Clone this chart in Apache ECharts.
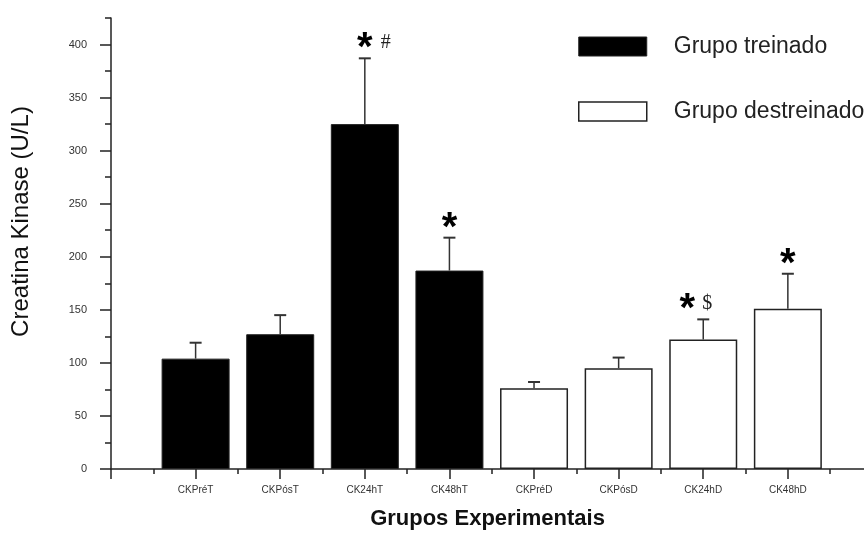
<!DOCTYPE html>
<html>
<head>
<meta charset="utf-8">
<script src="https://cdn.jsdelivr.net/npm/echarts@6/dist/echarts.min.js"></script>
<style>html,body{margin:0;padding:0;background:#fff;}#c{width:864px;height:535px;}</style>
</head>
<body>
<div id="c"></div>
<script>
// ---- data ----
const categories = ['CKPréT', 'CKPósT', 'CK24hT', 'CK48hT', 'CKPréD', 'CKPósD', 'CK24hD', 'CK48hD'];
const positions = [1, 2, 3, 4, 5, 6, 7, 8];
const trainedValues = [104, 127, 325, 187];
const trainedErrors = [15, 18, 62, 31];
const detrainedValues = [76, 95, 122, 151];
const detrainedErrors = [6, 10, 19, 33];
const annotations = ['', '', '*#', '*', '', '', '*$', '*'];
const yTicks = [0, 50, 100, 150, 200, 250, 300, 350, 400];
const yMinorTicks = [25, 75, 125, 175, 225, 275, 325, 375, 425];
const xMinorTicks = [0.5, 1.5, 2.5, 3.5, 4.5, 5.5, 6.5, 7.5, 8.5];
const seriesNames = ['Grupo treinado', 'Grupo destreinado'];

// ---- build ----
const allValues = trainedValues.concat(detrainedValues);
const allErrors = trainedErrors.concat(detrainedErrors);
const trainedData = trainedValues.map((v, i) => [positions[i], v]);
const detrainedData = detrainedValues.map((v, i) => [positions[i + 4], v]);
const errorData = allValues.map((v, i) => [positions[i], v, allErrors[i]]);
const annotData = allValues.map((v, i) => [positions[i], v + allErrors[i], i]);
const symOffsets = { '#': [0, 21], '$': [-16, 4] };

const axisColor = '#222';
const chart = echarts.init(document.getElementById('c'));
chart.setOption({
  backgroundColor: '#fff',
  animation: false,
  grid: { left: 111, right: 0, top: 18, bottom: 65, containLabel: false },
  legend: {
    orient: 'vertical', left: 573, top: 30,
    itemWidth: 68, itemHeight: 19, itemGap: 42,
    icon: 'rect',
    textStyle: { fontFamily: 'Liberation Sans', fontSize: 23, color: '#222', padding: [0, 0, 0, 22], lineHeight: 20 },
    data: [
      { name: seriesNames[0], itemStyle: { color: '#000', borderColor: '#222', borderWidth: 1 } },
      { name: seriesNames[1], itemStyle: { color: '#fff', borderColor: '#222', borderWidth: 1.5 } }
    ]
  },
  xAxis: [
    {
      type: 'value', min: 0, max: 8.9, interval: 1,
      name: 'Grupos Experimentais', nameLocation: 'middle', nameGap: 39,
      nameTextStyle: { fontFamily: 'Liberation Sans', fontSize: 22, fontWeight: 'bold', color: '#111' },
      axisLine: { show: true, onZero: false, lineStyle: { color: axisColor, width: 1.5 } },
      axisTick: { show: true, length: 10, customValues: [0].concat(positions), lineStyle: { color: axisColor, width: 1.5 } },
      axisLabel: {
        customValues: positions, margin: 16,
        fontFamily: 'Liberation Sans', fontSize: 10, color: '#333',
        formatter: v => categories[Math.round(v) - 1] || ''
      },
      splitLine: { show: false }
    },
    {
      type: 'value', min: 0, max: 8.9, position: 'bottom',
      axisLine: { show: false, onZero: false },
      axisTick: { show: true, length: 5, customValues: xMinorTicks, lineStyle: { color: axisColor, width: 1.5 } },
      axisLabel: { show: false },
      splitLine: { show: false }
    }
  ],
  yAxis: [
    {
      type: 'value', min: 0, max: 425,
      name: 'Creatina Kinase (U/L)', nameLocation: 'middle', nameGap: 78,
      nameTextStyle: { fontFamily: 'Liberation Sans', fontSize: 24, color: '#111', padding: [0, 0, 0, 44] },
      axisLine: { show: true, onZero: false, lineStyle: { color: axisColor, width: 1.5 } },
      axisTick: { show: true, length: 11, customValues: yTicks, lineStyle: { color: axisColor, width: 1.5 } },
      axisLabel: { customValues: yTicks, margin: 24, fontFamily: 'Liberation Sans', fontSize: 11, color: '#333' },
      splitLine: { show: false }
    },
    {
      type: 'value', min: 0, max: 425, position: 'left',
      axisLine: { show: false, onZero: false },
      axisTick: { show: true, length: 6, customValues: yMinorTicks, lineStyle: { color: axisColor, width: 1.5 } },
      axisLabel: { show: false },
      splitLine: { show: false }
    }
  ],
  series: [
    {
      name: seriesNames[0], type: 'bar', xAxisIndex: 0, yAxisIndex: 0,
      barWidth: 68, barGap: '-100%',
      itemStyle: { color: '#000', borderColor: '#222', borderWidth: 1 },
      data: trainedData, z: 2
    },
    {
      name: seriesNames[1], type: 'bar', xAxisIndex: 0, yAxisIndex: 0,
      barWidth: 68, barGap: '-100%',
      itemStyle: { color: '#fff', borderColor: '#222', borderWidth: 1.5 },
      data: detrainedData, z: 2
    },
    {
      type: 'custom', xAxisIndex: 0, yAxisIndex: 0, z: 3,
      data: errorData,
      renderItem: (params, api) => {
        const x = api.value(0), v = api.value(1), e = api.value(2);
        const p0 = api.coord([x, v]);
        const p1 = api.coord([x, v + e]);
        return {
          type: 'group', children: [
            { type: 'line', shape: { x1: p0[0], y1: p0[1], x2: p1[0], y2: p1[1] }, style: { stroke: '#333', lineWidth: 1.5 } },
            { type: 'line', shape: { x1: p1[0] - 6, y1: p1[1], x2: p1[0] + 6, y2: p1[1] }, style: { stroke: '#333', lineWidth: 2 } }
          ]
        };
      }
    },
    {
      type: 'custom', xAxisIndex: 0, yAxisIndex: 0, z: 4,
      data: annotData,
      renderItem: (params, api) => {
        const idx = api.value(2);
        const txt = annotations[idx];
        if (!txt) return null;
        const p = api.coord([api.value(0), api.value(1)]);
        const sym = txt.slice(1);
        const off = symOffsets[sym] || [0, 0];
        const children = [{
          type: 'text',
          style: { text: '*', x: p[0] + off[0], y: p[1] + 11, align: 'center', verticalAlign: 'bottom',
                   font: 'bold 40px "Liberation Sans"', fill: '#000' }
        }];
        if (sym) {
          children.push({
            type: 'text',
            style: { text: sym, x: p[0] + off[1], y: p[1] - 6, align: 'center', verticalAlign: 'bottom',
                     font: '20px "Liberation Serif"', fill: '#222' }
          });
        }
        return { type: 'group', children };
      }
    }
  ]
});
</script>
</body>
</html>
